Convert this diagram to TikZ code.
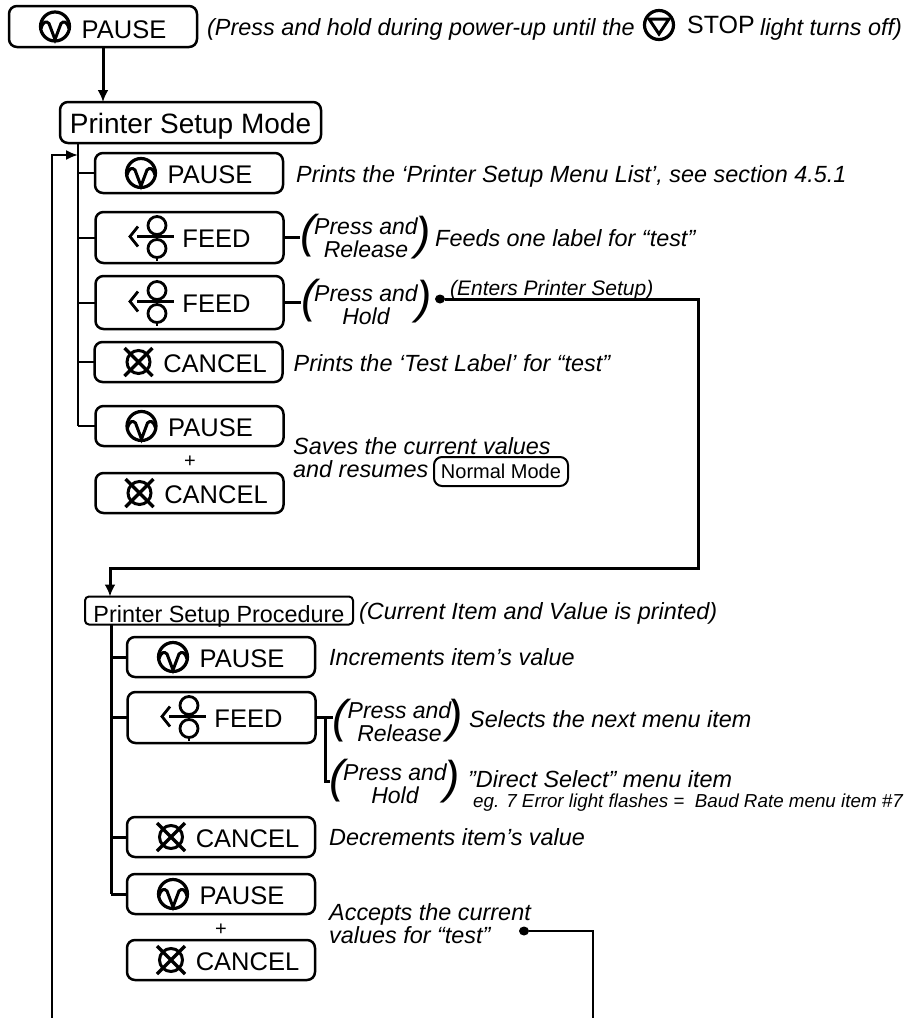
\documentclass[tikz,border=0pt]{standalone}
\usepackage{fontspec}
\setmainfont{Liberation Sans}
\usetikzlibrary{positioning}
\usetikzlibrary{arrows.meta}
\tikzset{
  btn/.style={draw,rounded corners=8pt,line width=2.5pt,minimum width=188pt,minimum height=40pt,
              inner sep=0pt,outer sep=0pt,text height=20pt,text depth=0pt,font=\fontsize{25.5}{25.5}\selectfont},
  tallbtn/.style={btn,minimum height=51pt},
  modebox/.style={draw,rounded corners=8pt,line width=2.5pt,inner sep=0pt,outer sep=0pt,text depth=0pt},
  desc/.style={anchor=base west,inner sep=0pt,font=\fontsize{23.4}{23}\selectfont\itshape},
  twoline/.style={anchor=west,align=left,inner sep=0pt,font=\fontsize{23.4}{23}\selectfont\itshape},
  press/.style={align=center,inner sep=0pt,font=\fontsize{23}{23}\selectfont\itshape},
  bigparen/.style={inner sep=0pt,outer sep=0pt,font=\fontsize{46}{46}\selectfont\itshape},
  plussign/.style={inner sep=0pt,font=\fontsize{20}{20}\selectfont},
  dotnode/.style={ellipse,fill,minimum width=10pt,minimum height=9pt,inner sep=0pt,outer sep=0pt},
  wire/.style={line width=2pt},
  flow/.style={line width=3pt},
  pauseicon/.pic={
    \draw[line width=3.2pt] (0,0) circle (14.5);
    \draw[line width=3pt] (-14,2) .. controls (-12,-5) and (-9,-6) .. (-6,-3) -- (0,13) -- (6,-3)
      .. controls (9,-6) and (12,-5) .. (14,2);
  },
  stopicon/.pic={
    \draw[line width=3.2pt] (0,0) circle (14.5);
    \draw[line width=3pt] (-10,-6) -- (10,-6) -- (0,9) -- cycle;
  },
  feedicon/.pic={
    \draw[line width=2.8pt] (0,-12) circle (9);
    \draw[line width=2.8pt] (0,11) circle (9);
    \draw[line width=3.5pt] (-20,-1) -- (17,-1);
    \draw[line width=2.8pt] (-19,-11) -- (-27,-1) -- (-19,9);
    \draw[line width=2.8pt] (0,20) -- (0,23.5);
  },
  cancelicon/.pic={
    \draw[line width=3pt] (0,0) circle (11.5);
    \draw[line width=3.4pt] (-14,-14) -- (14,14) (-14,14) -- (14,-14);
  },
}
\usetikzlibrary{shapes.geometric}
\begin{document}
\begin{tikzpicture}[x=1pt,y=-1pt]
\useasboundingbox (0,0) rectangle (904,1018);

\node[btn,minimum height=41pt,text height=23pt] (pausea) at (103,26.5) {\hspace*{42pt}PAUSE};
\node[modebox,minimum width=261pt,minimum height=41pt,text height=21pt,font=\fontsize{28}{28}\selectfont] (modeb) at (190.5,122.5) {Printer Setup Mode};
\node[btn] (pauseb) at (189,173) {\hspace*{42pt}PAUSE};
\node[tallbtn] (feeda) at (189.5,237.5) {\hspace*{54pt}FEED};
\node[tallbtn,minimum height=53pt] (feedb) at (189.5,302.5) {\hspace*{54pt}FEED};
\node[btn] (cancela) at (188.5,362) {\hspace*{53pt}CANCEL};
\node[btn] (pausec) at (189.5,426) {\hspace*{42pt}PAUSE};
\node[plussign] (plusa) at (190,462) {+};
\node[btn] (cancelb) at (189.5,493) {\hspace*{53pt}CANCEL};

\node[modebox,line width=2pt,rounded corners=4pt,minimum width=268pt,minimum height=28pt,text height=25pt,text depth=2pt,font=\fontsize{23.4}{23.4}\selectfont] (setup) at (219,610.5) {Printer Setup Procedure};
\node[btn] (paused) at (221,657) {\hspace*{42pt}PAUSE};
\node[tallbtn] (feedc) at (221.5,717.5) {\hspace*{54pt}FEED};
\node[btn] (cancelc) at (221,837) {\hspace*{53pt}CANCEL};
\node[btn] (pausee) at (221,894) {\hspace*{42pt}PAUSE};
\node[plussign] (plusb) at (221,930) {+};
\node[btn] (canceld) at (221,960) {\hspace*{53pt}CANCEL};

\foreach \n in {pausea,pauseb,pausec,paused,pausee}
  \pic at ([xshift=-48pt]\n.center) {pauseicon};
\foreach \n in {feeda,feedb,feedc}
  \pic at ([xshift=-32.5pt]\n.center) {feedicon};
\foreach \n in {cancela,cancelb,cancelc,canceld}
  \pic at ([xshift=-50pt]\n.center) {cancelicon};

\node[desc] (topdesc) at (207,35) {(Press and hold during power-up until the};
\pic at (659,25) {stopicon};
\node[anchor=base west,inner sep=0pt,font=\fontsize{25}{25}\selectfont] (stoptxt) at (687,33) {STOP};
\node[desc,base right=5pt of stoptxt,yshift=-2pt] (stopdesc) {light turns off)};

\node[desc] (descb) at (296,182) {Prints the ‘Printer Setup Menu List’, see section 4.5.1};
\node[desc] (desca) at (435,246) {Feeds one label for “test”};
\node[desc,font=\fontsize{21}{21}\selectfont\itshape] (enters) at (450,295) {(Enters Printer Setup)};
\node[desc] (descc) at (293.5,371) {Prints the ‘Test Label’ for “test”};
\node[twoline] (saves) at (293,458) {Saves the current values\\and resumes};
\node[modebox,line width=2pt,minimum width=134pt,minimum height=29pt,text height=14.5pt,font=\fontsize{20}{20}\selectfont] (normal) at (501,471.5) {Normal Mode};
\node[desc] (current) at (359,619) {(Current Item and Value is printed)};
\node[desc] (descd) at (329,665) {Increments item’s value};
\node[desc] (selects) at (469,727.5) {Selects the next menu item};
\node[desc] (direct) at (468,787) {”Direct Select” menu item};
\node[desc,font=\fontsize{18.8}{18.8}\selectfont\itshape] (flashes) at (473,807) {eg. 7 Error light flashes =\ \ Baud Rate menu item \#7};
\node[desc] (desce) at (329,845) {Decrements item’s value};
\node[twoline,font=\fontsize{23.4}{21}\selectfont\itshape] (accepts) at (329,924) {Accepts the current\\values for “test”};

\node[press] (relmida) at (366,238) {Press and\\Release};
\node[bigparen] (rell) at (308,236) {(};
\node[bigparen] (relr) at (423,238) {)};
\node[press] (holdmida) at (366,305) {Press and\\Hold};
\node[bigparen] (holdl) at (309,301) {(};
\node[bigparen] (holdr) at (424,302) {)};
\node[press] (relmidb) at (399.5,722) {Press and\\Release};
\node[bigparen] (relcl) at (340.5,721) {(};
\node[bigparen] (relcr) at (455.5,721) {)};
\node[press] (holdmidb) at (395,783.5) {Press and\\Hold};
\node[bigparen] (holdcl) at (337.5,781) {(};
\node[bigparen] (holdcr) at (452.5,782) {)};

\node[dotnode] (dota) at (440,299) {};
\node[dotnode] (dotb) at (524,931) {};

\coordinate (trunka) at (78,143);
\coordinate (trunkb) at (111,625);
\coordinate (loopa) at (52,1018);
\coordinate (loopb) at (52,155);
\coordinate (turna) at (698,299);
\coordinate (turnb) at (110,568);
\coordinate (split) at (325,718);
\coordinate (loopc) at (593,1018);

\draw[flow,-{Latex[length=12pt,width=11pt]}] (pausea.south) -- (pausea.south |- modeb.north);
\draw[wire] (trunka) -- (trunka |- pausec.west);
\draw[wire] (trunka |- pauseb.west) -- (pauseb.west);
\draw[wire] (trunka |- feeda.west) -- (feeda.west);
\draw[wire] (trunka |- feedb.west) -- (feedb.west);
\draw[wire] (trunka |- cancela.west) -- (cancela.west);
\draw[wire] (trunka |- pausec.west) -- (pausec.west);
\draw[wire,-{Latex[length=12pt,width=10pt]}] (loopa) -- (loopb) -- (trunka |- loopb);
\draw[flow] (feeda.east) -- (rell.west |- feeda.east);
\draw[flow] (feedb.east) -- (holdl.west |- feedb.east);
\draw[flow,-{Latex[length=12pt,width=11pt]}] (dota) -- (turna) |- (turnb) -- (turnb |- setup.north);

\draw[flow] (trunkb) -- (trunkb |- pausee.west);
\draw[flow] (trunkb |- paused.west) -- (paused.west);
\draw[flow] (trunkb |- feedc.west) -- (feedc.west);
\draw[flow] (trunkb |- cancelc.west) -- (cancelc.west);
\draw[flow] (trunkb |- pausee.west) -- (pausee.west);
\draw[flow] (feedc.east) -- (relcl.west |- feedc.east);
\draw[flow] (split) |- (holdcl.west);
\draw[wire] (dotb) -| (loopc);
\end{tikzpicture}
\end{document}
